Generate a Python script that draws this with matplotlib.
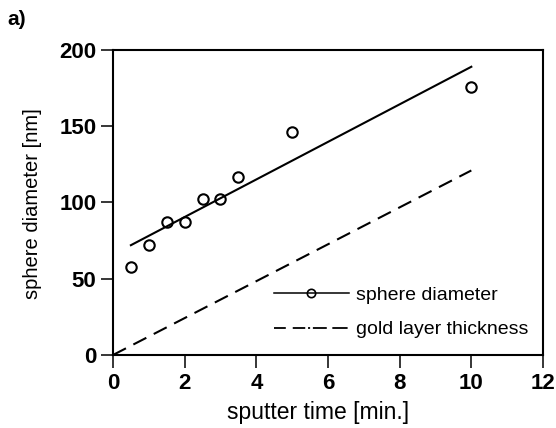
import matplotlib
matplotlib.use("Agg")
import matplotlib.pyplot as plt
from matplotlib.lines import Line2D

# values
sputter_time = [0.5, 1.0, 1.5, 2.0, 2.5, 3.0, 3.5, 5.0, 10.0]
sphere_diam = [58, 72, 87, 87, 102, 102, 117, 146, 176]
fit_time = [0.5, 10.0]
fit_diam = [72, 189]
gold_time = [0, 10]
gold_thick = [0, 121]
xticks = [0, 2, 4, 6, 8, 10, 12]
yticks = [0, 50, 100, 150, 200]
labels = ["sphere diameter", "gold layer thickness"]

plt.rcParams["font.family"] = ["Liberation Sans", "DejaVu Sans"]
plt.rcParams["lines.scale_dashes"] = False

fig = plt.figure(figsize=(5.56, 4.28), dpi=100)
ax = fig.add_axes([0.2032, 0.1706, 0.7734, 0.7126])

ax.plot(fit_time, fit_diam, color="black", lw=1.5)
ax.plot(sputter_time, sphere_diam, "o", mfc="none", mec="black", mew=1.5, ms=7.5,
        clip_on=False)
ax.plot(gold_time, gold_thick, color="black", lw=1.5, dashes=(10.5, 6))

# legend (handles drawn like the printed figure)
leg_h1 = Line2D([0, 1], [0, 0], color="black", lw=1.1, marker="o", mfc="none",
                mec="black", mew=1.2, ms=6)
leg_h2 = Line2D([0, 1], [0, 0], color="black", lw=1.3,
                dashes=(8.5, 5, 9, 2, 1.5, 2, 10, 4, 11, 20))
ax.legend([leg_h1, leg_h2], labels, loc="lower right", frameon=False,
          fontsize=14, handlelength=3.85, handletextpad=0.4, borderaxespad=0,
          labelspacing=0.88, bbox_to_anchor=(0.985, 0.029))

ax.set_xlim(0, 12)
ax.set_ylim(0, 200)
ax.set_xticks(xticks)
ax.set_yticks(yticks)
ax.tick_params(direction="out", length=9, width=1.1, labelsize=16, pad=3)
ax.tick_params(axis="x", pad=4)
for lab in ax.get_xticklabels() + ax.get_yticklabels():
    lab.set_fontweight("bold")
for sp in ax.spines.values():
    sp.set_linewidth(1.5)

ax.set_xlabel("sputter time [min.]", fontsize=16.5)
ax.set_ylabel("sphere diameter [nm]", fontsize=14.5)
ax.xaxis.set_label_coords(0.478, -0.187)
ax.xaxis.label.set_va("center")
ax.yaxis.set_label_coords(-0.188, 0.495)
ax.yaxis.label.set_va("center")

fig.text(0.014, 0.977, "a)", fontsize=15, fontweight="bold", va="top")

fig.savefig("out.png", dpi=100)
